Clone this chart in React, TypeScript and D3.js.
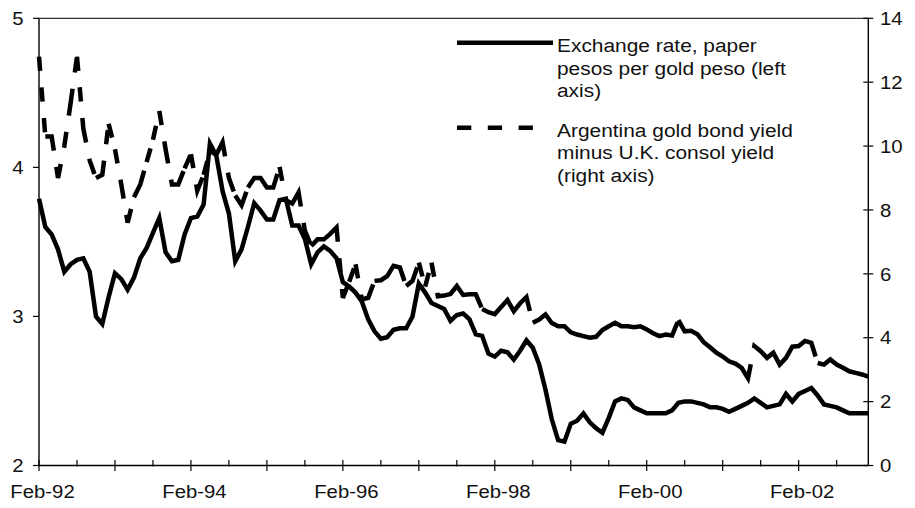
import React from "react";
import * as d3 from "d3";

// Monthly observations, Feb-92 ... Jan-03
const exchangeRate: number[] = [
  3.79, 3.6, 3.55, 3.45, 3.3, 3.35, 3.38, 3.39, 3.3, 3.0, 2.95, 3.13,
  3.29, 3.25, 3.18, 3.26, 3.39, 3.46, 3.56, 3.66, 3.43, 3.37, 3.38, 3.55,
  3.66, 3.67, 3.75, 4.16, 4.08, 3.84, 3.69, 3.37, 3.45, 3.6, 3.76, 3.71,
  3.65, 3.65, 3.78, 3.79, 3.61, 3.61, 3.52, 3.35, 3.43, 3.47, 3.44, 3.39,
  3.23, 3.2, 3.16, 3.1, 2.98, 2.9, 2.85, 2.86, 2.91, 2.92, 2.92, 3.0,
  3.22, 3.16, 3.09, 3.07, 3.05, 2.97, 3.01, 3.02, 2.98, 2.88, 2.87, 2.75,
  2.73, 2.77, 2.76, 2.71, 2.77, 2.84, 2.79, 2.68, 2.51, 2.31, 2.17, 2.16,
  2.28, 2.3, 2.35, 2.29, 2.25, 2.22, 2.32, 2.43, 2.45, 2.44, 2.39, 2.37,
  2.35, 2.35, 2.35, 2.35, 2.37, 2.42, 2.43, 2.43, 2.42, 2.41, 2.39, 2.39,
  2.38, 2.36, 2.38, 2.4, 2.42, 2.45, 2.42, 2.39, 2.4, 2.41, 2.48, 2.43,
  2.48, 2.5, 2.52, 2.47, 2.41, 2.4, 2.39, 2.37, 2.35, 2.35, 2.35, 2.35,
];

const yieldSpread: number[] = [
  12.8, 10.3, 10.3, 9.0, 10.0, 11.35, 12.8, 10.55, 9.55, 9.0, 9.1, 10.7,
  9.9, 8.8, 7.6, 8.4, 8.8, 9.5, 10.2, 11.1, 9.9, 8.8, 8.8, 9.3,
  9.75, 8.6, 9.1, 9.85, 9.73, 10.12, 9.0, 8.45, 8.15, 8.7, 9.0, 9.0,
  8.7, 8.7, 9.35, 8.3, 8.2, 8.55, 7.35, 6.87, 7.08, 7.08, 7.25, 7.45,
  5.25, 5.75, 6.3, 5.2, 5.25, 5.78, 5.8, 5.93, 6.25, 6.2, 5.62, 5.78,
  6.35, 5.6, 6.35, 5.3, 5.32, 5.37, 5.62, 5.34, 5.36, 5.36, 4.9, 4.8,
  4.74, 4.96, 5.18, 4.83, 5.08, 5.27, 4.47, 4.57, 4.73, 4.46, 4.36, 4.36,
  4.17, 4.1, 4.05, 4.0, 4.03, 4.24, 4.36, 4.47, 4.36, 4.36, 4.33, 4.36,
  4.26, 4.14, 4.05, 4.1, 4.07, 4.55, 4.2, 4.22, 4.11, 3.86, 3.7, 3.53,
  3.41, 3.26, 3.19, 3.06, 2.73, 3.74, 3.58, 3.37, 3.53, 3.16, 3.37, 3.72,
  3.74, 3.9, 3.84, 3.21, 3.16, 3.32, 3.16, 3.06, 2.95, 2.9, 2.85, 2.78,
];

const xTickLabels: string[] = ["Feb-92", "Feb-94", "Feb-96", "Feb-98", "Feb-00", "Feb-02"];
const leftTicks: number[] = [2, 3, 4, 5];
const rightTicks: number[] = [0, 2, 4, 6, 8, 10, 12, 14];
const legendSolid: string[] = ["Exchange rate, paper", "pesos per gold peso (left", "axis)"];
const legendDashed: string[] = ["Argentina gold bond yield", "minus U.K. consol yield", "(right axis)"];

const W = 915;
const H = 508;
const L = 39;
const R = 868.3;
const T = 18.3;
const B = 465.5;
const FONT = "'Liberation Sans', Arial, Helvetica, sans-serif";
const LW = 4.5;
const DASH = 14.3;
const GAP = 16.5;

type Pt = [number, number];

function dashedRuns(pts: Pt[], dash: number, gap: number): Pt[][] {
  const runs: Pt[][] = [];
  let current: Pt[] | null = null;
  const period = dash + gap;
  for (let i = 0; i < pts.length - 1; i++) {
    const [x0, y0] = pts[i];
    const [x1, y1] = pts[i + 1];
    const len = Math.hypot(x1 - x0, y1 - y0);
    if (len === 0) continue;
    const at = (t: number): Pt => [x0 + ((x1 - x0) * t) / len, y0 + ((y1 - y0) * t) / len];
    for (let s = 0; s < len; s += period) {
      const e = Math.min(s + dash, len);
      if (s === 0 && current) {
        current.push(at(e));
      } else {
        current = [at(s), at(e)];
        runs.push(current);
      }
      if (e < len) current = null;
    }
  }
  return runs;
}

function SText(props: { x: number; y: number; anchor?: string; size: number; children: React.ReactNode; dy?: string }) {
  const { x, y, anchor = "start", size, children, dy } = props;
  return (
    <text
      transform={`translate(${x},${y}) scale(1.1,1)`}
      textAnchor={anchor}
      fontSize={size}
      fontFamily={FONT}
      fill="#111"
      dy={dy}
    >
      {children}
    </text>
  );
}

export default function App() {
  const n = exchangeRate.length;
  const x = d3.scaleLinear().domain([0, n - 1]).range([L, R]);
  const yL = d3.scaleLinear().domain([2, 5]).range([B, T]);
  const yR = d3.scaleLinear().domain([0, 14]).range([B, T]);

  const solidPath = d3
    .line<number>()
    .x((_, i) => x(i))
    .y((d) => yL(d))(exchangeRate) as string;

  const dashedPts: Pt[] = yieldSpread.map((d, i) => [x(i), yR(d)]);
  const runs = dashedRuns(dashedPts, DASH, GAP);
  const runLine = d3.line<Pt>();

  const tickIdx = d3.range(0, n, 6);

  return (
    <svg width={W} height={H} style={{ position: "absolute", left: 0, top: 0, background: "#fff" }}>
      <rect x={0} y={0} width={W} height={H} fill="#fff" />
      {/* frame */}
      <line x1={L} x2={R} y1={T} y2={T} stroke="#333" strokeWidth={1.2} />
      <line x1={L} x2={L} y1={T} y2={B} stroke="#000" strokeWidth={1.4} />
      <line x1={R} x2={R} y1={T} y2={B} stroke="#000" strokeWidth={1.4} />
      <line x1={L} x2={R} y1={B} y2={B} stroke="#000" strokeWidth={1.4} />

      {/* left ticks */}
      {leftTicks.map((v) => (
        <g key={`l${v}`}>
          <line x1={L - 6} x2={L} y1={yL(v)} y2={yL(v)} stroke="#000" strokeWidth={1.2} />
          <SText x={23.5} y={yL(v)} anchor="end" size={18.5} dy="0.36em">
            {v}
          </SText>
        </g>
      ))}

      {/* right ticks */}
      {rightTicks.map((v) => (
        <g key={`r${v}`}>
          <line x1={R - 5} x2={R + 5} y1={yR(v)} y2={yR(v)} stroke="#000" strokeWidth={1.2} />
          <SText x={880} y={yR(v)} anchor="start" size={18.5} dy="0.36em">
            {v}
          </SText>
        </g>
      ))}

      {/* x ticks */}
      {tickIdx.map((i) => {
        const major = i % 12 === 0;
        return (
          <line
            key={`x${i}`}
            x1={x(i)}
            x2={x(i)}
            y1={B - 5.5}
            y2={major ? B + 5.5 : B + 1}
            stroke="#000"
            strokeWidth={1.2}
          />
        );
      })}
      {xTickLabels.map((lab, k) => (
        <SText key={lab} x={x(k * 24) + 3.5} y={498} anchor="middle" size={18.5}>
          {lab}
        </SText>
      ))}

      {/* series */}
      <path d={solidPath} fill="none" stroke="#000" strokeWidth={LW} strokeLinejoin="miter" />
      {runs.map((r, k) => (
        <path
          key={`d${k}`}
          d={runLine(r) as string}
          fill="none"
          stroke="#000"
          strokeWidth={LW}
          strokeLinejoin="miter"
          strokeLinecap="butt"
        />
      ))}

      {/* legend */}
      <line x1={457} x2={553} y1={42.7} y2={42.7} stroke="#000" strokeWidth={LW} />
      <line
        x1={457}
        x2={545}
        y1={127.7}
        y2={127.7}
        stroke="#000"
        strokeWidth={LW}
        strokeDasharray={`${DASH} ${GAP}`}
      />
      {legendSolid.map((t, k) => (
        <SText key={t} x={557} y={52 + k * 22.5} size={19}>
          {t}
        </SText>
      ))}
      {legendDashed.map((t, k) => (
        <SText key={t} x={557} y={136.5 + k * 22.5} size={19}>
          {t}
        </SText>
      ))}
    </svg>
  );
}
